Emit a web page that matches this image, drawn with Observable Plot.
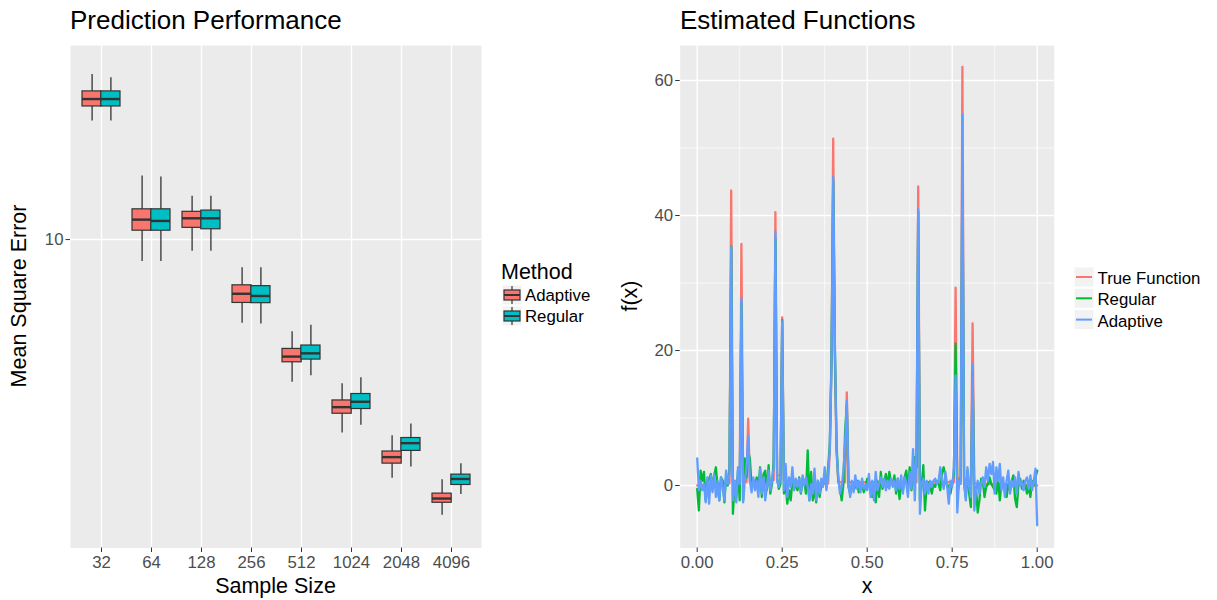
<!DOCTYPE html>
<html>
<head>
<meta charset="utf-8">
<script src="https://cdn.jsdelivr.net/npm/d3@7"></script>
<script src="https://cdn.jsdelivr.net/npm/@observablehq/plot@0.6"></script>
<style>
  body { margin: 0; background: #fff; }
  #wrap { position: relative; width: 1217px; height: 600px; overflow: hidden; font-family: "Liberation Sans", Arial, sans-serif; }
  #wrap > svg, #wrap > div { position: absolute; }
</style>
</head>
<body>
<div id="wrap"></div>
<script>
// ---------------- Left panel data (Mean Square Error, log scale) ----------------
const sizes = ["32", "64", "128", "256", "512", "1024", "2048", "4096"];
const methods = ["Adaptive", "Regular"];
const methodColors = ["#F8766D", "#00BFC4"];

const adaptiveLow  = [21.8, 8.65, 9.26, 5.77, 3.91, 2.80, 2.08, 1.63];
const adaptiveQ1   = [24.0, 10.6, 10.8, 6.59, 4.46, 3.18, 2.29, 1.77];
const adaptiveMed  = [25.2, 11.4, 11.5, 7.00, 4.63, 3.32, 2.39, 1.82];
const adaptiveQ3   = [26.5, 12.2, 12.0, 7.40, 4.87, 3.47, 2.48, 1.88];
const adaptiveHigh = [29.6, 15.2, 13.3, 8.30, 5.45, 3.87, 2.75, 2.06];

const regularLow  = [21.8, 8.65, 9.26, 5.74, 4.08, 2.95, 2.24, 1.87];
const regularQ1   = [24.0, 10.6, 10.7, 6.58, 4.54, 3.28, 2.49, 1.99];
const regularMed  = [25.2, 11.3, 11.5, 6.90, 4.73, 3.44, 2.62, 2.07];
const regularQ3   = [26.5, 12.2, 12.1, 7.36, 4.98, 3.62, 2.71, 2.13];
const regularHigh = [29.0, 15.1, 13.3, 8.30, 5.69, 4.03, 2.97, 2.29];

const mseTicks = [10];

// ---------------- Right panel data (estimated functions) ----------------
const trueX = [0, 0.095, 0.1, 0.105, 0.125, 0.13, 0.135, 0.145, 0.15, 0.155, 0.225, 0.23, 0.235, 0.245, 0.25, 0.255, 0.26,
  0.385, 0.39, 0.395, 0.4, 0.405, 0.41, 0.415, 0.435, 0.44, 0.445, 0.645, 0.65, 0.655, 0.755, 0.76, 0.765, 0.775, 0.78, 0.785,
  0.805, 0.81, 0.815, 1];
const trueY = [0, 0.3, 43.7, 0.6, 0.8, 35.8, 0.8, 0.5, 9.9, 0.5, 0.8, 40.5, 1.5, 1.5, 24.9, 0.8, 0.2,
  0.3, 5, 18, 51.4, 18, 5, 0.5, 0.5, 13.8, 0.5, 0.5, 44.3, 0.5, 0.5, 29.3, 1, 1, 62.0, 1,
  0.5, 24.0, 0.3, 0];

// Regular estimate, evenly sampled on [0, 1] (201 points)
const regularY = [
  -0.5, -3.7, 2.2, 0.7, 2.0, -2.2, 0.2, 1.0, 1.7, -0.2,
  1.5, 2.7, -0.2, -2.2, 1.2, 0.7, -2.5, 1.5, 0, 2.5,
  35.4, -4.2, 0.2, -1.7, 2.2, -2.2, 27.0, -2.2, 4.0, 1.2,
  5.0, 4.0, -0.2, 0.5, 0, 1.2, -0.5, 2.7, -1.7, 1.7,
  2.2, -0.7, 3.0, -1.2, 0.2, 3.7, 36.5, 1.2, -0.5, 0.2,
  24.5, -1.2, 0.2, -2.7, -0.7, -2.2, 0.7, 0, -0.2, -0.7,
  1.2, -1.2, 1.0, 0.5, -1.2, 5.2, -2.2, 2.0, -2.2, -0.2,
  -2.5, 0.7, -1.7, 0, 0.5, 1.2, -0.2, 2.7, 6.0, 19,
  45.2, 20, 6, 0.7, -0.5, -2.2, 0.2, 8, 12.0, -0.2,
  -1.2, 0.2, -0.7, -0.2, 0.7, -1.0, -0.5, 0.2, -1.0, -0.2,
  1.0, 0.2, -0.5, -1.7, -0.7, -2.5, 0.7, -1.7, 2.0, -0.5,
  0.7, 1.7, -0.2, 2.0, 0.5, 0.2, 1.5, -1.2, 1.0, -2.0,
  0.2, -0.7, 1.2, 2.2, -0.2, 2.7, -0.7, 1.2, 4.2, 2.7,
  40.5, -2.2, -0.2, 3.0, -3.7, 0.2, 0.5, 0, -1.2, 0.2,
  -0.2, 0.7, 0.2, -0.7, 2.0, 2.7, 1.2, -0.2, 0, -1.2,
  0.2, 1.7, 21.0, -1.2, 0.2, 0.7, 47.4, 0.2, -1.7, 2.2,
  -1.2, -3.2, 17.0, -1.7, -0.2, -4.0, -2.2, 1.0, 0.7, -1.7,
  -0.2, 0.2, 1.2, 0.2, -0.2, -0.7, -1.2, 1.2, -2.2, 0.5,
  -0.2, 0.2, -1.7, 0.2, -0.7, 0.7, 1.5, -2.0, -3.2, 0.2,
  1.0, -0.5, 0.7, 0.2, -1.2, 0, -1.7, 0.7, 0, 1.2,
  2.2
];

// Adaptive estimate, same sampling
const adaptiveY = [
  4.0, -0.7, 0.7, -0.7, 0.2, -2.5, 1.2, -2.7, 1.5, -1.0,
  1.7, -1.7, 0.7, -2.2, 1.2, -0.2, -2.2, 2.2, 0.2, 1.7,
  35.3, -2.2, 0.7, -2.5, 2.7, 0.2, 27.7, -2.5, 0.7, 2.7,
  7.4, 0.7, -1.0, 1.2, -0.7, 0.7, -1.7, 2.5, -1.2, 1.2,
  -2.2, -0.2, 2.2, -0.7, 0.7, 2.7, 37.6, 0.7, -0.2, 1.2,
  24.3, -0.7, 3.2, -1.7, 1.2, -0.2, 2.7, -0.7, 1.0, -0.2,
  1.0, -1.0, 1.5, 0, 1.2, -0.2, -2.2, 0.2, -1.2, 2.5,
  -2.2, 0.7, -1.2, 1.0, -0.2, 2.7, -0.7, 1.7, 5.5, 18,
  45.7, 21, 5.0, 1.2, -1.2, -0.2, 2.2, 6, 12.5, 0.2,
  -1.7, 0.7, -1.0, 1.5, -0.5, 0.7, -1.0, 1.0, -0.5, 0.2,
  -0.7, 1.7, -1.7, 0.7, -2.2, 2.0, -0.7, 0.2, 1.2, -0.2,
  1.0, -0.7, 0.7, -0.5, 1.0, -0.2, 0.7, -0.7, 1.0, -0.5,
  1.5, -1.2, 1.2, 0.2, -1.7, 2.0, -0.5, 5.4, -2.2, 5.2,
  40.9, -4.2, 0.2, 1.0, -1.2, 0.7, -1.2, 0.7, -0.2, 0.7,
  1.0, 0.2, 0.7, 2.7, 0.7, -0.5, 2.0, 0, -2.7, 0.7,
  -0.2, 2.7, 16.3, -4.0, 0.7, 0.2, 55.0, 0.7, -2.2, 2.7,
  -0.2, -1.7, 17.9, -3.7, -0.7, 0.7, -1.2, 0.2, 1.2, -0.2,
  2.7, 0.7, 3.2, 1.7, 3.5, -1.2, 2.7, 0.7, 3.2, -0.7,
  1.2, -1.7, 0.7, 2.2, -1.2, 0.7, -0.2, 1.2, -1.2, 2.0,
  0, 0.5, -0.7, 0.7, 1.2, -0.5, 1.5, -0.7, 0.7, 2.5,
  -5.9
];

const seriesNames = ["True Function", "Regular", "Adaptive"];
const seriesColors = ["#F8766D", "#00BA38", "#619CFF"];
const xMajor = [0, 0.25, 0.5, 0.75, 1];
const xMinor = [0.125, 0.375, 0.625, 0.875];
const yMajor = [0, 20, 40, 60];
const yMinor = [10, 30, 50];

// ---------------- Build tables ----------------
const adaptiveRows = sizes.map((size, i) => ({size, method: "Adaptive", low: adaptiveLow[i], q1: adaptiveQ1[i], med: adaptiveMed[i], q3: adaptiveQ3[i], high: adaptiveHigh[i]}));
const regularRows = sizes.map((size, i) => ({size, method: "Regular", low: regularLow[i], q1: regularQ1[i], med: regularMed[i], q3: regularQ3[i], high: regularHigh[i]}));
const trueRows = trueX.map((x, i) => ({x, y: trueY[i]}));
const regRows = regularY.map((y, i) => ({x: i / (regularY.length - 1), y}));
const adaRows = adaptiveY.map((y, i) => ({x: i / (adaptiveY.length - 1), y}));

const FONT = "Liberation Sans, Arial, Helvetica, sans-serif";
const GRID = {stroke: "#ffffff", strokeOpacity: 1};
const HALF = 18.8; // half of the dodge band (px)
const LW = 2.3;

const left = Plot.plot({
  width: 485, height: 600,
  marginTop: 45, marginBottom: 52.5, marginLeft: 70, marginRight: 4,
  style: {fontFamily: FONT, fontSize: "16.8px", background: "transparent", color: "#4d4d4d"},
  x: {type: "band", domain: sizes, paddingInner: 0.25, paddingOuter: 0.225},
  y: {type: "log", domain: [1.3146, 35.84]},
  marks: [
    Plot.frame({fill: "#ebebeb", stroke: "none"}),
    Plot.gridX(sizes, {...GRID, strokeWidth: 1.4}),
    Plot.gridY(mseTicks, {...GRID, strokeWidth: 1.4}),
    Plot.ruleX(adaptiveRows, {x: "size", y1: "low", y2: "high", dx: -HALF / 2, stroke: "#333333", strokeWidth: 1.3}),
    Plot.ruleX(regularRows, {x: "size", y1: "low", y2: "high", dx: HALF / 2, stroke: "#333333", strokeWidth: 1.3}),
    Plot.barY(adaptiveRows, {x: "size", y1: "q1", y2: "q3", fill: methodColors[0], stroke: "#333333", strokeWidth: 1.2, insetRight: HALF}),
    Plot.barY(regularRows, {x: "size", y1: "q1", y2: "q3", fill: methodColors[1], stroke: "#333333", strokeWidth: 1.2, insetLeft: HALF}),
    Plot.tickY(adaptiveRows, {x: "size", y: "med", stroke: "#333333", strokeWidth: 2.4, insetRight: HALF}),
    Plot.tickY(regularRows, {x: "size", y: "med", stroke: "#333333", strokeWidth: 2.4, insetLeft: HALF}),
    Plot.axisX({tickSize: 4.5, tickPadding: 4, stroke: "#333333", fill: "#4d4d4d", label: null}),
    Plot.axisY(mseTicks, {tickSize: 4.5, tickPadding: 2.5, stroke: "#333333", fill: "#4d4d4d", label: null, tickFormat: d => String(d)})
  ]
});
left.style.left = "0px"; left.style.top = "0px";

const right = Plot.plot({
  width: 460, height: 600,
  marginTop: 45, marginBottom: 52.5, marginLeft: 79.7, marginRight: 6.3,
  style: {fontFamily: FONT, fontSize: "16.8px", background: "transparent", color: "#4d4d4d"},
  x: {domain: [-0.05, 1.05]},
  y: {domain: [-9.259, 65.185]},
  marks: [
    Plot.frame({fill: "#ebebeb", stroke: "none"}),
    Plot.gridX(xMinor, {...GRID, strokeWidth: 0.7}),
    Plot.gridY(yMinor, {...GRID, strokeWidth: 0.7}),
    Plot.gridX(xMajor, {...GRID, strokeWidth: 1.4}),
    Plot.gridY(yMajor, {...GRID, strokeWidth: 1.4}),
    Plot.line(trueRows, {x: "x", y: "y", stroke: seriesColors[0], strokeWidth: LW}),
    Plot.line(regRows, {x: "x", y: "y", stroke: seriesColors[1], strokeWidth: LW}),
    Plot.line(adaRows, {x: "x", y: "y", stroke: seriesColors[2], strokeWidth: LW}),
    Plot.axisX(xMajor, {tickSize: 4.5, tickPadding: 4, stroke: "#333333", fill: "#4d4d4d", label: null, tickFormat: d3.format(".2f")}),
    Plot.axisY(yMajor, {tickSize: 4.5, tickPadding: 2.5, stroke: "#333333", fill: "#4d4d4d", label: null, tickFormat: d => String(d)})
  ]
});
right.style.left = "600px"; right.style.top = "0px";

const wrap = document.getElementById("wrap");
wrap.appendChild(left);
wrap.appendChild(right);

// ---------------- Titles, axis titles and legends ----------------
const NS = "http://www.w3.org/2000/svg";
const ov = document.createElementNS(NS, "svg");
ov.setAttribute("width", 1217); ov.setAttribute("height", 600);
ov.style.left = "0px"; ov.style.top = "0px"; ov.style.fontFamily = FONT; ov.style.pointerEvents = "none";
wrap.appendChild(ov);
function el(tag, attrs, text) {
  const e = document.createElementNS(NS, tag);
  for (const k in attrs) e.setAttribute(k, attrs[k]);
  if (text != null) e.textContent = text;
  ov.appendChild(e);
  return e;
}
el("text", {x: 70, y: 29, "font-size": 26, fill: "#000"}, "Prediction Performance");
el("text", {x: 680, y: 29, "font-size": 26, fill: "#000"}, "Estimated Functions");
el("text", {x: 275.5, y: 592.5, "font-size": 21.5, fill: "#000", "text-anchor": "middle"}, "Sample Size");
el("text", {x: 867, y: 592.5, "font-size": 21.5, fill: "#000", "text-anchor": "middle"}, "x");
el("text", {transform: "translate(26,296) rotate(-90)", "font-size": 21.5, fill: "#000", "text-anchor": "middle"}, "Mean Square Error");
el("text", {transform: "translate(637,296) rotate(-90)", "font-size": 21.5, fill: "#000", "text-anchor": "middle"}, "f(x)");

// Left legend (Method)
el("text", {x: 501, y: 279, "font-size": 21.5, fill: "#000"}, "Method");
methods.forEach((m, i) => {
  const y0 = 285 + i * 21;
  el("rect", {x: 502, y: y0, width: 20, height: 20, fill: "#f2f2f2", stroke: "#fff", "stroke-width": 1});
  el("line", {x1: 512, x2: 512, y1: y0 + 1, y2: y0 + 19, stroke: "#333", "stroke-width": 1.2});
  el("rect", {x: 504, y: y0 + 5, width: 16, height: 10, fill: methodColors[i], stroke: "#333", "stroke-width": 1.2});
  el("line", {x1: 504, x2: 520, y1: y0 + 10, y2: y0 + 10, stroke: "#333", "stroke-width": 2});
  el("text", {x: 525, y: y0 + 16, "font-size": 16.8, fill: "#000"}, m);
});

// Right legend
seriesNames.forEach((s, i) => {
  const y0 = 267 + i * 21.3;
  el("rect", {x: 1074, y: y0, width: 20, height: 20, fill: "#f2f2f2", stroke: "#fff", "stroke-width": 1});
  el("line", {x1: 1076, x2: 1092, y1: y0 + 10, y2: y0 + 10, stroke: seriesColors[i], "stroke-width": 2});
  el("text", {x: 1097.5, y: y0 + 17, "font-size": 16.8, fill: "#000"}, s);
});
</script>
</body>
</html>
